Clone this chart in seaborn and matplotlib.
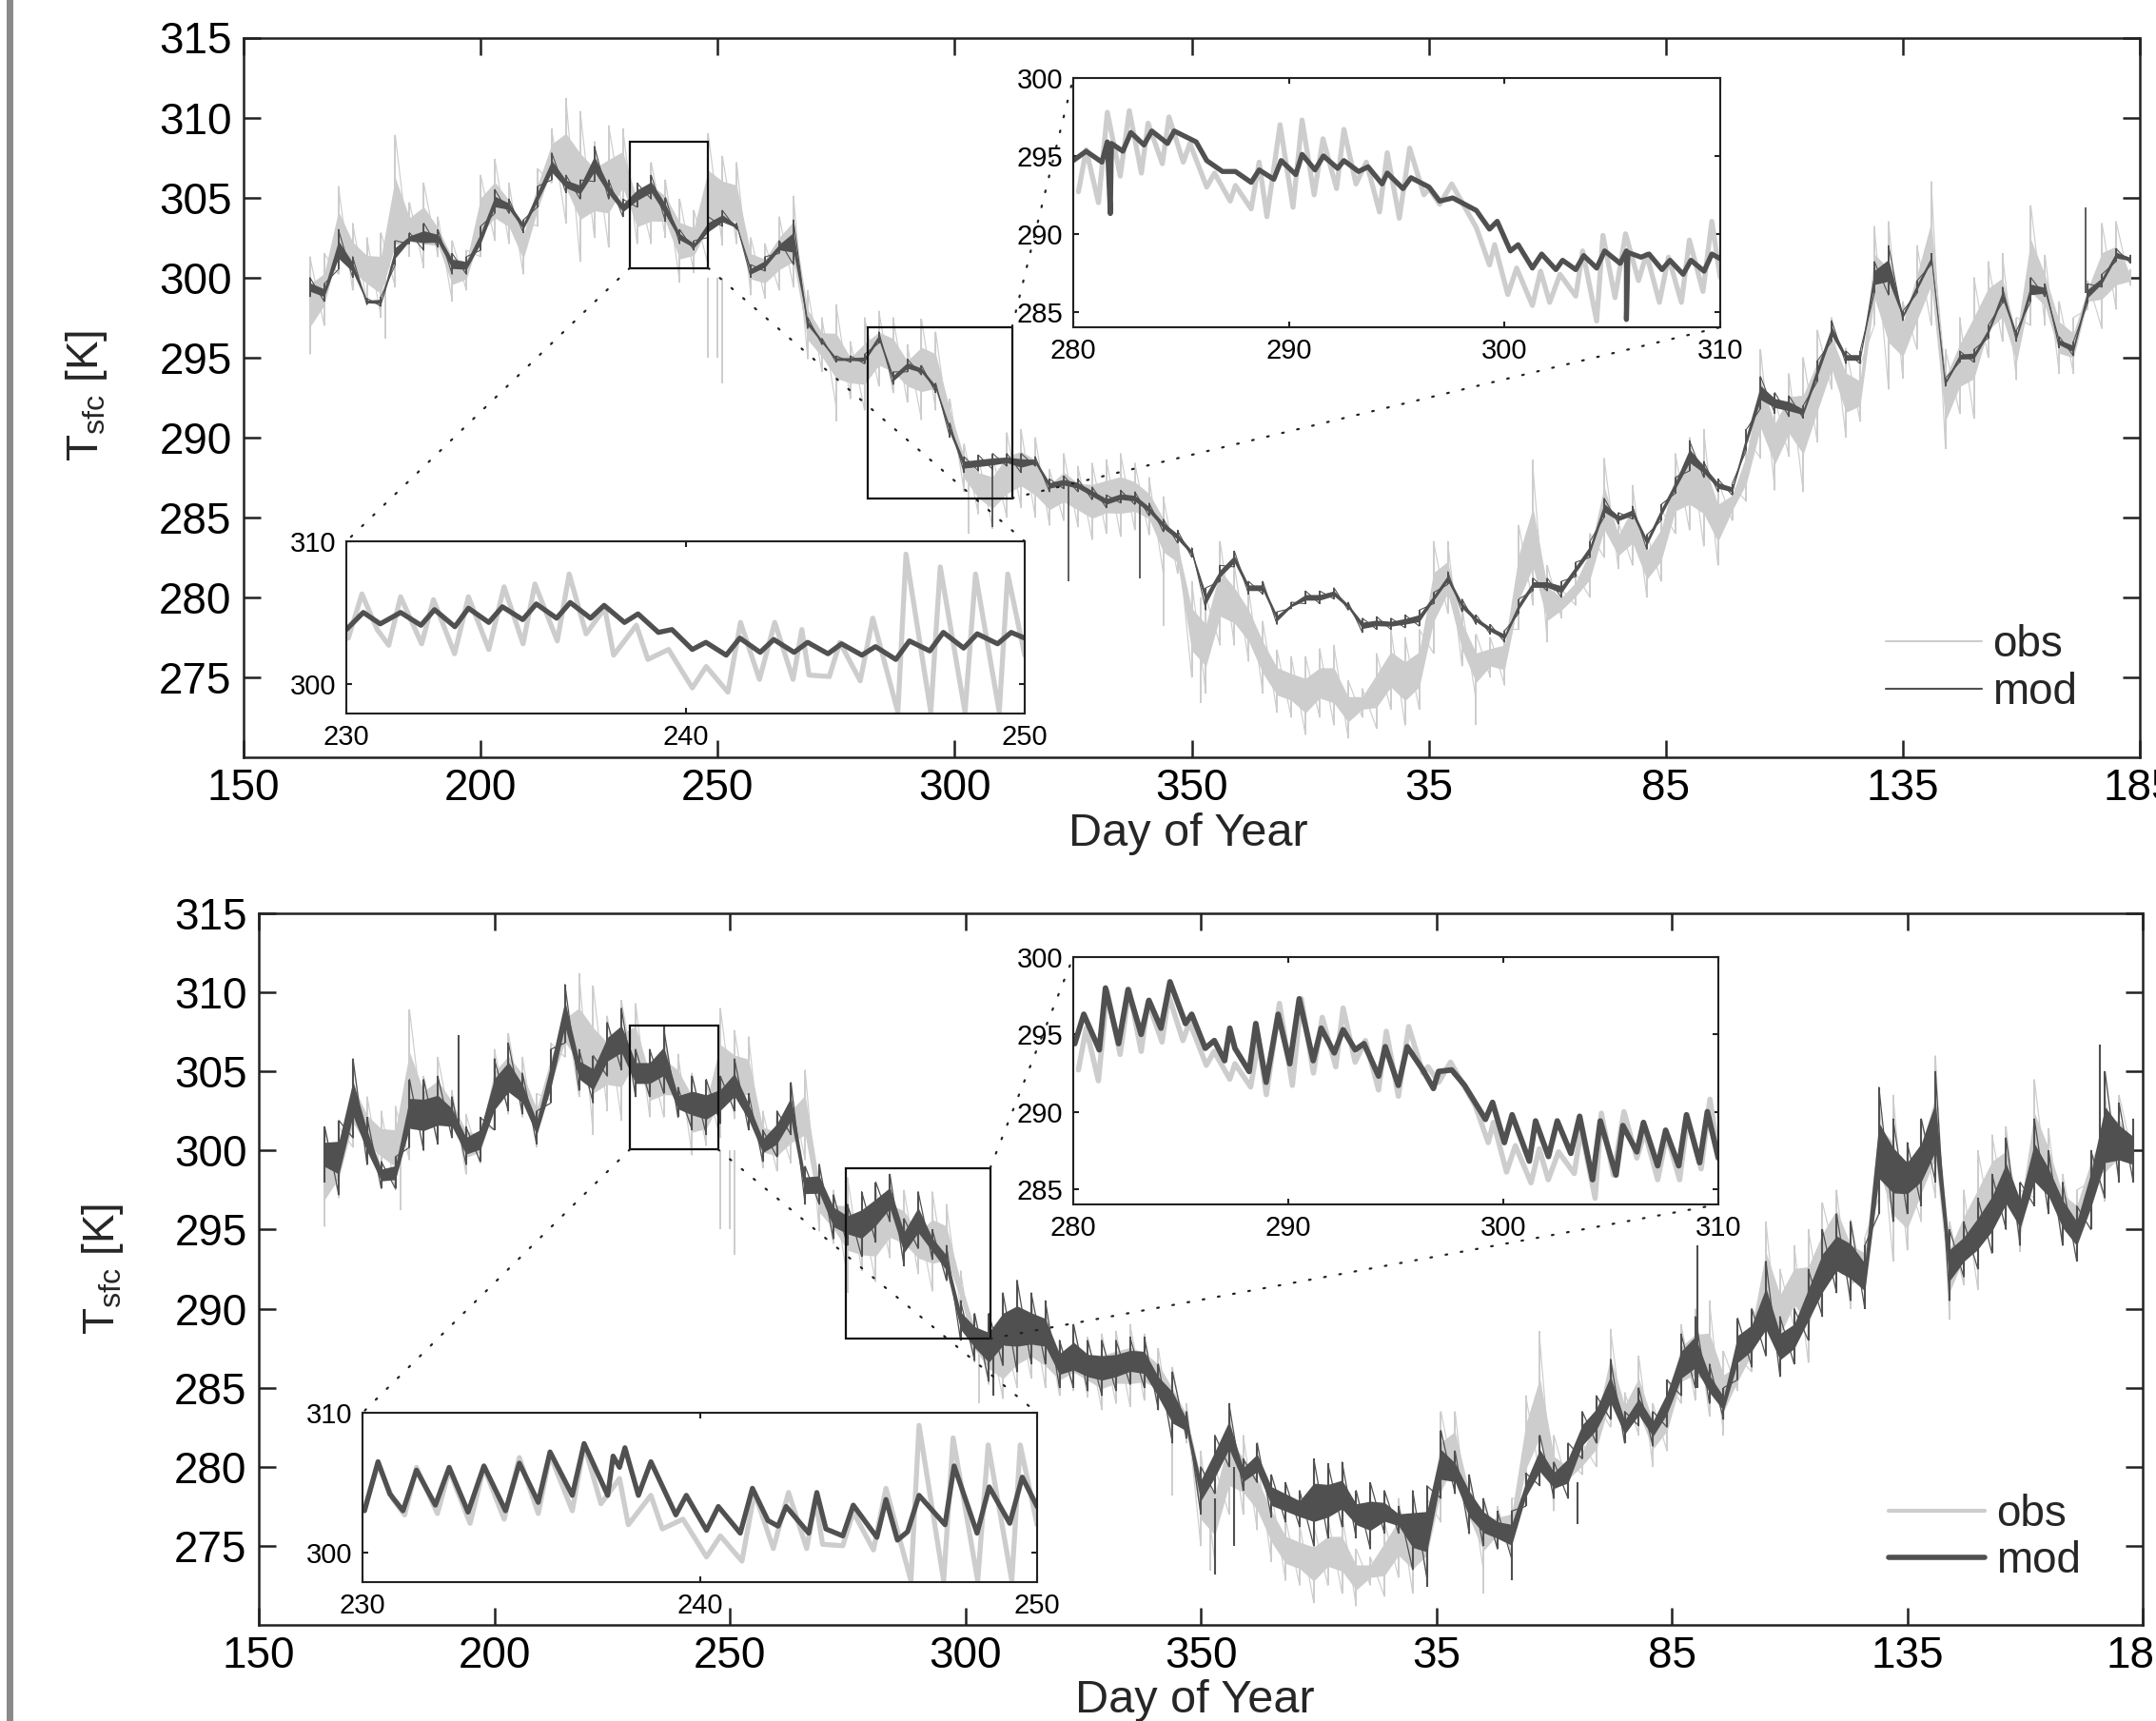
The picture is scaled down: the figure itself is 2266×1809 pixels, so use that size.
import numpy as np
import matplotlib
matplotlib.use("Agg")
import matplotlib.pyplot as plt
from matplotlib.patches import Rectangle, ConnectionPatch
import seaborn as sns

sns.set_style("ticks")
plt.rcParams['font.family'] = ['Liberation Sans', 'DejaVu Sans']

OBS_C = '#cdcdcd'
MOD_C = '#505050'

days = list(range(164, 549, 3))
xtick_pos = [150, 200, 250, 300, 350, 400, 450, 500, 550]
xtick_lab = ['150', '200', '250', '300', '350', '35', '85', '135', '185']
ytick_pos = [275, 280, 285, 290, 295, 300, 305, 310, 315]

obs_hi = [301.3,301.5,305.7,303.4,302.5,302.8,308.9,304.7,305.9,303.8,
 302.3,301.7,306.4,307.4,305.9,303.6,306.8,309.3,311.2,310.4,
 308.5,309.5,309.3,305.9,307.2,306.1,304.9,304.2,309,307.6,
 307.2,302.5,302.1,303.8,305.1,299.2,297.5,298.3,296,297.5,
 297.9,297.5,295.8,297.4,296.6,292.4,289.6,288.8,288.8,290.3,
 290.5,290,288,289,288.2,288.4,288.6,289,288.4,287.5,
 286.3,284,281,280,283.5,282,280.5,278.5,276.7,276.3,
 276.3,276.8,277,274.8,274.3,276.5,278,277.5,278,283.5,
 283.5,279.5,277.7,277.5,278,284.5,288,282,280.5,281.5,
 284,288.7,284.7,287,284,285.5,289,290,290.5,287.3,
 287,290,295.5,292.5,294,295,296.7,297.5,295.6,294.5,
 303.2,303.5,298.5,302,306,295.5,297.5,300,301,301.5,
 297.5,304.5,301.4,298.5,297.5,299.8,303.4,303.5,300.5]
obs_lo = [295.2,297,300.2,299.2,298.5,297.5,299.4,301.3,300.6,301.3,
 298.5,299.2,301.3,302.3,302.1,300.2,303.2,305.9,303.4,301,
 302.5,301.9,304.2,302.1,302.1,302.5,299.7,300.3,300.8,302,
 302.1,298.9,298.7,299.2,299.4,294.9,294.1,291.9,292.4,291.7,
 293.2,292.8,292.2,291.1,291.7,290,286.6,285.2,284.3,285,
 285.6,285,284.5,284.8,284.4,283.6,284,283.8,284.2,283.9,
 281.5,281.5,275,274,277,277,276,274,272.8,272.5,
 271.4,272.5,272,271.2,272.5,271.8,273,272,273,276.5,
 279,275.7,273.5,275,274.5,278,279.5,277.2,278.7,279.5,
 280,282.5,281.8,282,280,281,284,284.2,283.2,282,
 284.8,286,288.7,286.7,288.8,286.6,289.7,293,290,291,
 297,293,293.7,295.5,297,289.3,291.5,291.2,295,296,
 293.6,297,297,294,294,298,296.8,298,299.5]

mod1_hi = [300,299.6,303,301.3,298.7,298.8,302.3,302.8,303.4,303,
 301.5,301.3,303.2,305.5,304.9,303.6,305.7,307.8,306.4,306.1,
 308.2,306.1,304.9,305.9,306.4,305,303,302.3,303.8,304.2,
 303.4,300.8,301.3,302.3,303.6,297.5,296.2,295.1,295.1,295.2,
 296.6,294.1,294.9,294.5,293.4,290.9,288.8,288.9,289,289,
 289,288.8,287.4,287.6,287.4,286.9,286.4,286.7,286.6,285.9,
 284.9,284.2,283.1,280.6,282,282.9,281,281,279.1,279.7,
 280.4,280.4,280.6,279.7,278.7,278.8,278.7,278.9,279.2,280.3,
 281.6,279.9,278.9,278.3,277.9,279.9,281.2,281.2,281,282.2,
 283.5,286.2,285.3,285.7,283.9,285.8,287.5,289.8,288.5,287.4,
 287.1,290.5,293.8,292.8,292.6,292,294.8,297.3,295.4,295.4,
 301,302,297.9,299.8,301.5,293.7,295.4,295.5,297,299.4,
 296.7,300,299.6,296.3,296,299.6,300.2,301.8,301.4]
mod1_lo = [298.8,298.5,300.5,300,298.3,298.2,300.8,302.1,301.7,301.9,
 300.2,300.2,301.7,304,304,302.8,304.4,306.1,305.3,304.9,
 306,304.9,303.8,304.4,304.9,303.5,302.1,301.7,302.5,303.2,
 303,300,300.4,301.5,300.8,296.8,295.8,294.7,294.7,294.6,
 295.9,293.3,294.1,293.9,292.8,290,287.8,287.9,288,288.2,
 287.8,288.2,286.6,286.8,286.6,286.1,285.6,285.9,285.8,285.1,
 284.1,283.4,282.5,279.2,281,281.9,280.2,280.2,278.3,279.3,
 279.6,279.6,279.9,279.2,277.8,278,278,278.1,278.2,279.6,
 280.8,279.1,278.3,277.7,277.2,279,280.4,280.4,280,281.3,
 282.5,285,284.6,284.9,283,284.8,286.5,287.9,287.5,286.6,
 286.4,289.2,291.8,291.5,291.3,291.2,293.5,296,294.6,294.6,
 299,298.9,297.3,299,300.8,293.2,294.7,294.7,296.2,298.4,
 296,298.5,298.8,295.6,295.1,298.4,299.4,301,300.9]

mod2_hi = [301.5,301.9,305.8,302.1,299.3,299.6,304.5,304.5,304.7,303.4,
 301.5,302.1,305.8,306.8,304.9,302.5,306.4,310.5,306.4,306,
 308.1,309,306.4,306.4,307.7,304,304.7,304.5,304.7,305.8,
 303.6,301.3,302.5,304.3,299,299.1,297.2,296.6,297.4,298,
 298.5,295.7,297.4,295,294,290.5,289.7,289.7,291,291.8,
 291,290.5,288,289,288,288,288,288.2,288.2,286.5,
 286,283.5,280,282,284,280.5,281.5,279.5,279,278.5,
 280.5,280.2,280.3,278.5,279,278.5,277.5,278.5,278.8,282.3,
 281,279.5,278,277.2,277.2,279.6,282,280.3,281.5,283.5,
 284.5,286.8,283.5,285,283.5,285.5,288.4,289.5,286.5,285,
 289.4,290,293,289.5,290,292.5,295,296,295.5,294,
 304,302,300.5,302,305,295,295.5,297,298.5,300.8,
 298,302,300,298,296.5,300,305,303,302]
mod2_lo = [298,297.2,300.8,299.1,297.6,297.6,300.2,300,300.4,300.8,
 299.1,299.3,301.3,302.5,302.3,300.4,303,306.8,303.8,303,
 304.7,305.1,303.4,303.4,303.6,302.1,301.3,301,301.7,302.5,
 301.3,299.3,299.6,301,296.6,296.6,294.4,294,293.3,294.2,
 295.5,292.7,293.8,293.1,291.8,288,286.7,285.4,286.4,286,
 286.5,286.5,285,285,284.8,284.5,284.8,285.2,285,283.6,
 281.5,281.8,277,278.3,280,278.5,279,276.8,276.5,276.2,
 275,275.5,276.2,275.5,274.8,275.8,275.8,273.5,273,278,
 278.3,275.8,275,274.8,274.2,277.5,278.8,278,278,280.5,
 281.5,283,281.5,282.6,281.3,282.5,284.5,285,284,283,
 285.5,286.3,287,285.7,286.5,288,289.5,291,290.5,290,
 296,295.5,296,296.5,298,290.5,292,292.5,293.5,295,
 294,296.5,296,294,293,295,297,298,298]

# isolated spikes: day, low end, high end
obs_sp_day = [248, 250, 251, 344, 352, 410, 422, 180, 275, 303]
obs_sp_lo = [295, 295, 293.4, 278.2, 273.4, 272, 284, 296.2, 291, 284]
obs_sp_hi = [300, 300, 300, 284, 280, 276, 288.6, 300, 298.3, 288]
mod1_sp_day = [308, 324, 339, 538.6, 248]
mod1_sp_lo = [284.4, 281, 281.2, 299, 301]
mod1_sp_hi = [288.5, 287.2, 285.8, 304.4, 304.5]
mod2_sp_day = [192.5, 236, 353, 357, 398, 416, 430, 455.5, 541, 306]
mod2_sp_lo = [301, 304, 273.2, 275, 272.4, 272.8, 276.4, 285, 299, 284.5]
mod2_sp_hi = [307.3, 307.9, 278, 280, 276, 276, 279, 294, 306.7, 288]

# insets: 280-310
obsB_x = [280.24,280.6,281.17,281.58,282.18,282.6,283.16,283.47,284.13,284.44,285.1,285.41,286.19,286.55,287.28,287.52,288.25,288.62,288.98,289.59,290.19,290.61,291.17,291.58,292.21,292.55,293.11,293.59,294.2,294.56,295.12,295.6,296.26,296.5,296.99,297.55,298.2,298.69,299.3,299.54,300.15,300.56,301.29,301.67,302.09,302.57,303.3,303.62,304.27,304.56,305.12,305.61,306.21,306.58,307.18,307.6,308.2,308.57,309.2,309.61,310]
obsB_y = [292.7,295.4,292,297.8,293.7,297.9,293.9,297.1,294.5,297.5,294.6,295.8,293,293.9,292.1,293.1,291.6,294.6,291.1,297,291.7,297.3,292.5,296.1,292.9,296.7,293.2,294.6,291.4,295.2,291,295.5,292.5,292.9,291.9,293.2,291.6,290.4,288,289.3,286.1,287.8,285.4,287.6,285.6,287.4,286,288.9,284.4,289.9,285.9,290,287,288.7,285.6,288.5,285.6,289.6,286.3,290.8,287.2]
modB1_x = [280,280.6,281.33,281.58,281.72,281.77,282.3,282.67,283.28,283.64,284.37,284.68,285.7,286.19,286.92,287.52,288.25,288.62,289.3,289.64,290.32,290.61,291.21,291.6,292.26,292.55,293.23,293.67,294.32,294.56,295.29,295.66,296.5,296.99,297.6,298.69,299.3,299.66,300.27,300.63,301.29,301.72,302.38,302.69,303.3,303.67,304.27,304.64,305.36,305.65,305.65,305.72,306.33,306.7,307.3,307.67,308.28,308.64,309.25,309.61,310]
modB1_y = [294.7,295.3,294.6,295.9,291.3,295.8,295.3,296.5,295.7,296.6,295.8,296.6,295.9,294.7,294,294,293.3,294.1,293.5,294.7,293.8,295.1,294.1,295,294.2,294.7,294,294.3,293.2,293.9,292.9,293.6,293,292.1,292.3,291.5,290.3,290.8,288.9,289.3,287.8,288.7,287.7,288.3,287.7,288.6,287.8,288.9,288.1,288.9,284.5,288.8,288.5,288.7,287.7,288.3,287.4,288.3,287.6,288.7,288.4]
modB2_x = [280.07,280.49,281.21,281.5,282.11,282.55,283.16,283.52,284.08,284.5,285.22,285.51,286.14,286.56,287.04,287.28,287.52,288.18,288.49,288.97,289.53,290.07,290.51,291.16,291.53,292.14,292.55,293.11,293.52,294.2,294.51,295.12,295.53,296.26,296.75,296.99,297.6,298.2,299.17,299.5,300.05,300.41,301.21,301.5,302.1,302.51,303.14,303.55,304.15,304.51,305.24,305.56,306.21,306.52,307.18,307.55,308.16,308.52,309.13,309.49,310]
modB2_y = [294.4,296.3,294,298,294.4,297.9,295,297.2,295.4,298.4,295.7,296.3,294.1,294.6,293.3,295.4,294.1,292.6,295.7,291.9,296.3,293.1,297.3,293.3,295.4,293.8,295.3,294,294.4,292.3,294.2,291.7,294.2,292.7,291.5,292.6,292.7,291.7,289.5,290.6,288,289.8,286.8,289.4,287.1,289.4,287.3,289.7,285.6,289.4,285.9,289.1,287.4,289.3,286.5,288.8,286.5,289.8,286.7,290,287]

# insets: 230-250
obsA_x = [230.06,230.46,230.91,231.25,231.6,232.22,232.57,233.19,233.6,234.2,234.65,235.21,235.56,236.22,236.57,237.07,237.62,237.88,238.55,238.89,239.5,240.2,240.61,241.25,241.62,242.18,242.63,243.17,243.43,243.64,244.24,244.55,245.15,245.52,246.26,246.5,247.23,247.51,248.24,248.55,249.25,249.5,250]
obsA_y = [303.2,306.3,303.8,302.7,306.1,302.8,305.9,302.1,306.1,302.4,306.8,302.8,307,303,307.7,303.5,305.3,302,304.1,301.7,302.4,299.7,301.2,299.4,304.3,300.3,304.3,300.3,303.8,300.6,300.5,302.9,300.2,304.6,298,309.1,298,308.2,298,307.7,298,307.7,302]
modA1_x = [230,230.5,231,231.6,232.2,232.6,233.2,233.6,234.2,234.6,235.2,235.6,236.2,236.6,237.2,237.6,238.2,238.6,239.2,239.6,240.2,240.6,241.2,241.6,242.2,242.6,243.2,243.6,244.2,244.6,245.2,245.6,246.2,246.6,247.2,247.6,248.2,248.6,249.2,249.6,250]
modA1_y = [303.8,305,304.2,305,304.1,305.2,304,305.3,304.3,305.4,304.5,305.6,304.6,305.7,304.6,305.5,304.3,304.9,303.6,303.8,302.4,302.9,302,303.2,302.2,303.1,302.2,302.9,302.1,302.8,302,302.6,301.7,303,302.3,303.6,302.5,303.5,302.8,303.6,303.2]
modA2_x = [230.06,230.46,230.81,231.2,231.6,232.16,232.57,233.13,233.6,234.24,234.65,235.21,235.56,236.22,236.57,237.27,237.43,237.62,237.78,238.18,238.55,239.29,239.6,240.2,240.55,241.2,241.56,242.02,242.32,242.56,243.23,243.47,243.74,244.24,244.55,245.25,245.52,245.86,246.16,246.5,247.27,247.54,248.22,248.58,249.19,249.56,250]
modA2_y = [303,306.5,304.2,303,305.9,303.4,306.1,302.9,306.2,303,306.4,303.6,307.2,304.1,307.8,304.1,306.9,306.1,307.5,304.1,306.5,302.7,304.1,301.6,303.3,301.4,304.6,302.3,301.9,303.3,301.4,304.3,301.7,301.2,303.4,301.1,303.8,300.9,301.5,304.1,302,306.2,301.4,304.7,302.1,305.4,303.3]

W, H = 2266, 1809
fig = plt.figure(figsize=(W / 100, H / 100), dpi=100, facecolor='white')
plt.rcParams['mathtext.fontset'] = 'custom'
plt.rcParams['mathtext.rm'] = 'Liberation Sans'


def px_axes(l, t, r, b, zorder=1):
    return fig.add_axes([l / W, 1 - b / H, (r - l) / W, (b - t) / H], zorder=zorder)


def band(ax, hi, lo, color, lw, label):
    # shaded core of each reading's range, with its full range as a zigzag stroke
    d = np.array(days)
    hi_a, lo_a = np.array(hi), np.array(lo)
    ax.fill_between(d, lo_a * 0.72 + hi_a * 0.28, lo_a * 0.28 + hi_a * 0.72,
                    color=color, lw=0, zorder=2)
    ax.vlines(d, lo_a, hi_a, color=color, lw=lw, zorder=2)
    sns.lineplot(x=np.repeat(d, 2), y=np.column_stack((lo_a, hi_a)).ravel(), ax=ax,
                 color=color, lw=lw * 0.6, sort=False, estimator=None, errorbar=None,
                 label=label, zorder=2)


def style_axes(ax, size, length, lw):
    for s in ax.spines.values():
        s.set_visible(True)
        s.set_linewidth(lw)
        s.set_color('#222222')
    ax.tick_params(which='both', direction='in', top=True, right=True, length=length,
                   width=lw, labelsize=size, color='#222222', labelcolor='black')
    ax.set_xlabel('')
    ax.set_ylabel('')


def inset(pos, xlim, ylim, xt, yt, series, lws):
    ax = px_axes(*pos, zorder=5)
    ax.set_facecolor('white')
    for (x, y, c), w in zip(series, lws):
        sns.lineplot(x=x, y=y, ax=ax, color=c, lw=w, sort=False, estimator=None,
                     errorbar=None, legend=False)
    ax.set_xlim(*xlim)
    ax.set_ylim(*ylim)
    ax.set_xticks(xt)
    ax.set_yticks(yt)
    style_axes(ax, 21, 4, 1.5)
    ax.tick_params(axis='both', pad=8)
    return ax


def connect(a, xya, b, xyb):
    fig.add_artist(ConnectionPatch(xyA=xya, coordsA=a.transData, xyB=xyb, coordsB=b.transData,
                                   linestyle=(0, (0.8, 6.5)), lw=1.6, color='#222222', zorder=6))


def panel(pos, mod_hi, mod_lo, sp, lw_o, lw_m, leg_lw, lab_xy, xlab_y, leg_y, rects,
          inA, inB, serA, serB, lwsB):
    ax = px_axes(*pos)
    band(ax, obs_hi, obs_lo, OBS_C, lw_o, 'obs')
    ax.vlines(obs_sp_day, obs_sp_lo, obs_sp_hi, color=OBS_C, lw=lw_o, zorder=2)
    band(ax, mod_hi, mod_lo, MOD_C, lw_m, 'mod')
    ax.vlines(sp[0], sp[1], sp[2], color=MOD_C, lw=lw_m, zorder=3)
    ax.set_xlim(150, 550)
    ax.set_ylim(270, 315)
    ax.set_xticks(xtick_pos)
    ax.set_xticklabels(xtick_lab)
    ax.set_yticks(ytick_pos)
    style_axes(ax, 33, 13, 1.8)
    ax.tick_params(axis='x', pad=8)
    ax.tick_params(axis='y', pad=9)
    ax.set_xlabel('Day of Year', fontsize=35, va='center')
    ax.xaxis.set_label_coords(*xlab_y)
    ax.set_ylabel(r'T$_{\mathrm{sfc}}$ [K]', fontsize=33, va='center')
    ax.yaxis.set_label_coords(*lab_xy)
    leg = ax.legend(loc='lower right', bbox_to_anchor=(0.967, leg_y), frameon=False, fontsize=33,
                    handlelength=2.2, labelspacing=0.12, handletextpad=0.25, borderaxespad=0, borderpad=0)
    for h, w in zip(leg.get_lines(), leg_lw):
        h.set_linewidth(w)
    for (x0, y0, x1, y1) in rects:
        ax.add_patch(Rectangle((x0, y0), x1 - x0, y1 - y0, fill=False, ec='#111111', lw=1.6, zorder=4))
    a = inset(inA, (230, 250), (297.9, 310), [230, 240, 250], [300, 310], serA, (3.8, 3.8))
    b = inset(inB, (280, 310), (284, 300), [280, 290, 300, 310], [285, 290, 295, 300], serB, lwsB)
    r1, r2 = rects
    connect(ax, (r1[0], r1[1]), a, (230, 310))
    connect(ax, (r1[2], r1[1]), a, (250, 310))
    connect(ax, (r2[2], r2[3]), b, (280, 300))
    connect(ax, (r2[2], r2[1]), b, (310, 284))
    return ax


panel((256, 39.5, 2249, 796), mod1_hi, mod1_lo, (mod1_sp_day, mod1_sp_lo, mod1_sp_hi), 1.4, 1.3,
      (1.5, 1.5), (-0.083, 0.502), (0.498, -0.106), 0.061,
      [(231.5, 300.6, 248, 308.5), (281.7, 286.2, 312.1, 296.9)],
      (364, 569, 1077, 750), (1128, 82, 1808, 344),
      [(obsA_x, obsA_y, OBS_C), (modA1_x, modA1_y, MOD_C)],
      [(obsB_x, obsB_y, OBS_C), (modB1_x, modB1_y, MOD_C)], (3.8, 3.8))

panel((272, 960, 2252, 1708), mod2_hi, mod2_lo, (mod2_sp_day, mod2_sp_lo, mod2_sp_hi), 1.4, 1.5,
      (3, 4), (-0.083, 0.50), (0.497, -0.106), 0.06,
      [(228.8, 300.07, 247.5, 307.9), (274.7, 288.1, 305.3, 298.9)],
      (381, 1485, 1090, 1663), (1128, 1006, 1806, 1266),
      [(obsA_x, obsA_y, OBS_C), (modA2_x, modA2_y, MOD_C)],
      [(obsB_x, obsB_y, OBS_C), (modB2_x, modB2_y, MOD_C)], (4.0, 4.2))

fig.add_artist(Rectangle((7 / W, 0), 7 / W, 1, transform=fig.transFigure, color='#8a8a8a', lw=0))
fig.savefig('out.png', dpi=100)
